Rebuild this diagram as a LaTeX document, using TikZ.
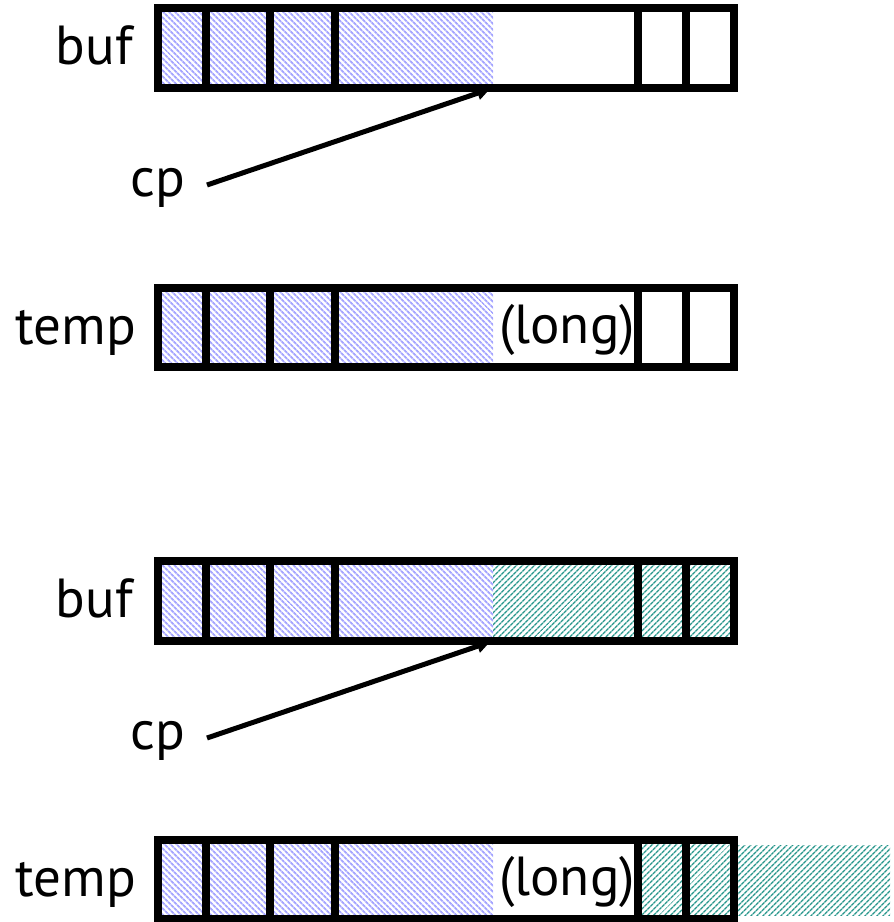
\documentclass[tikz,border=0pt]{standalone}
\usepackage{fontspec}
\setmainfont{PT Sans}
\usetikzlibrary{patterns.meta,arrows.meta}
\definecolor{hatchblue}{RGB}{165,165,255}
\definecolor{hatchgreen}{RGB}{40,150,140}
\tikzset{
  box/.style={draw=black,line width=8pt,minimum width=576pt,minimum height=79.5pt,inner sep=0pt},
  wall/.style={draw=black,line width=8pt},
  bluefill/.style={pattern={Lines[angle=-45,distance=4pt,line width=2pt]},pattern color=hatchblue},
  greenfill/.style={pattern={Lines[angle=45,distance=4pt,line width=1.5pt]},pattern color=hatchgreen},
  lbl/.style={font=\fontsize{55}{62}\selectfont,inner sep=0pt},
  ptr/.style={line width=5pt,-{Triangle[length=13pt,width=13pt]}},
}
\begin{document}
\begin{tikzpicture}[x=1pt,y=-1pt]
\useasboundingbox (0,0) rectangle (894,922);
% ---------- row 1: buf ----------
\fill[bluefill] (158,8) rectangle (493,88);
\node[box] (buf1) at (446,48) {};
\foreach \x in {206,270,335,638,686} \draw[wall] (\x,8) -- (\x,88);
\node[lbl,anchor=base east] (buflbl1) at (133,64) {buf};
\node[lbl,anchor=base west] (cp1) at (130,196) {cp};
\coordinate (s1) at (207,185);
\coordinate (t1) at (490,89);
\draw[ptr] (s1) -- (t1);
% ---------- row 2: temp ----------
\fill[bluefill] (158,288) rectangle (493,367);
\node[box] (temp2) at (446,327.5) {};
\foreach \x in {206,270,335,638,686} \draw[wall] (\x,288) -- (\x,367);
\node[lbl,anchor=base east] (templbl2) at (136,344) {temp};
\node[lbl,anchor=base] (long2) at (567,343) {(long)};
% ---------- row 3: buf ----------
\fill[bluefill] (158,561) rectangle (493,641);
\fill[greenfill] (493,561) rectangle (734,641);
\node[box] (buf3) at (446,601) {};
\foreach \x in {206,270,335,638,686} \draw[wall] (\x,561) -- (\x,641);
\node[lbl,anchor=base east] (buflbl3) at (133,617) {buf};
\node[lbl,anchor=base west] (cp3) at (130,749) {cp};
\coordinate (s3) at (207,738);
\coordinate (t3) at (490,642);
\draw[ptr] (s3) -- (t3);
% ---------- row 4: temp ----------
\fill[bluefill] (158,840) rectangle (493,919);
\fill[greenfill] (638,840) rectangle (734,919);
\fill[greenfill] (738,845) rectangle (890,915);
\node[box] (temp4) at (446,879.5) {};
\foreach \x in {206,270,335,638,686} \draw[wall] (\x,840) -- (\x,919);
\node[lbl,anchor=base east] (templbl4) at (136,896) {temp};
\node[lbl,anchor=base] (long4) at (567,895) {(long)};
\end{tikzpicture}
\end{document}
